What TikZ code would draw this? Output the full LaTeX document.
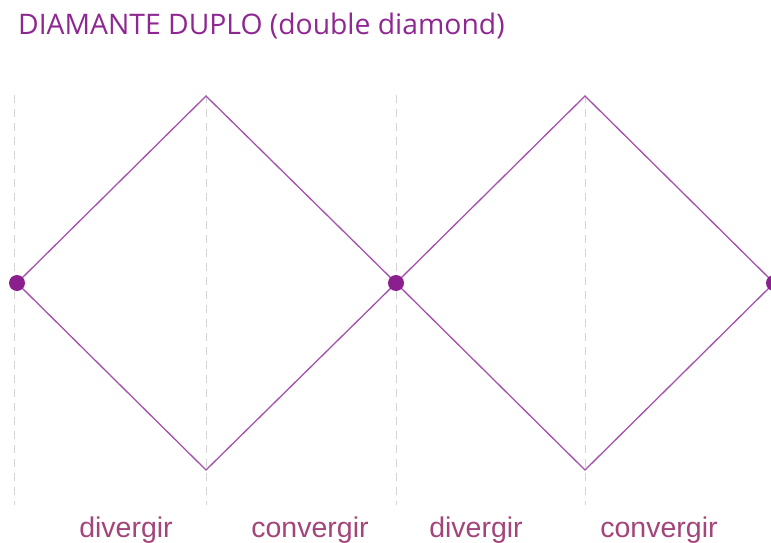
\documentclass[tikz,border=0pt]{standalone}
\usepackage{fontspec}
\setmainfont{Liberation Sans}
\newfontfamily\titlefont{Open Sans}
\usetikzlibrary{positioning, calc}
\definecolor{titlepurple}{HTML}{8E2791}
\definecolor{linepurple}{HTML}{A450AC}
\definecolor{dotpurple}{HTML}{8B1F8D}
\definecolor{labelplum}{HTML}{A3457A}
\definecolor{guidegray}{HTML}{D4D4D4}

\begin{document}
\begin{tikzpicture}[
    x=1pt, y=-1pt,
    edge/.style={draw=linepurple, line width=1.3pt, line join=miter},
    guide/.style={draw=guidegray, line width=1pt, dash pattern=on 8pt off 6pt},
    dot/.style={circle, fill=dotpurple, minimum size=16pt, inner sep=0pt},
    phase/.style={font=\fontsize{28.5}{30}\selectfont, text=labelplum, anchor=base},
    heading/.style={font=\titlefont\fontsize{28.3}{32}\selectfont, text=titlepurple, anchor=base west},
]
\useasboundingbox (0,0) rectangle (771,543);
% ------------------------------------------------ title
\node[heading, inner sep=0pt] (title) at (18,35) {DIAMANTE DUPLO (double diamond)};
% ------------------------------------------------ guide lines
\foreach \g/\gx in {a/14, b/206, c/396, d/585} {
  \coordinate (\g top) at (\gx,95);
  \coordinate (\g bot) at (\gx,505);
  \draw[guide] (\g top) -- (\g bot);
}
% ------------------------------------------------ the two diamonds
\coordinate (l1) at (17,283);
\coordinate (t1) at (206,96);
\coordinate (b1) at (206,470);
\coordinate (m) at (396,283);
\coordinate (t2) at (585,96);
\coordinate (b2) at (585,470);
\coordinate (r2) at (774,283);
\draw[edge] (l1) -- (t1) -- (m) -- (b1) -- cycle;
\draw[edge] (m) -- (t2) -- (r2) -- (b2) -- cycle;
\node[dot] (start) at (l1) {};
\node[dot] (middle) at (m) {};
\node[dot] (finish) at (r2) {};
% ------------------------------------------------ phases
\foreach \p/\px/\ptext in {p1/126/divergir, p2/310/convergir, p3/476/divergir, p4/659/convergir} {
  \node[phase] (\p) at (\px,537) {\ptext};
}
\end{tikzpicture}
\end{document}
